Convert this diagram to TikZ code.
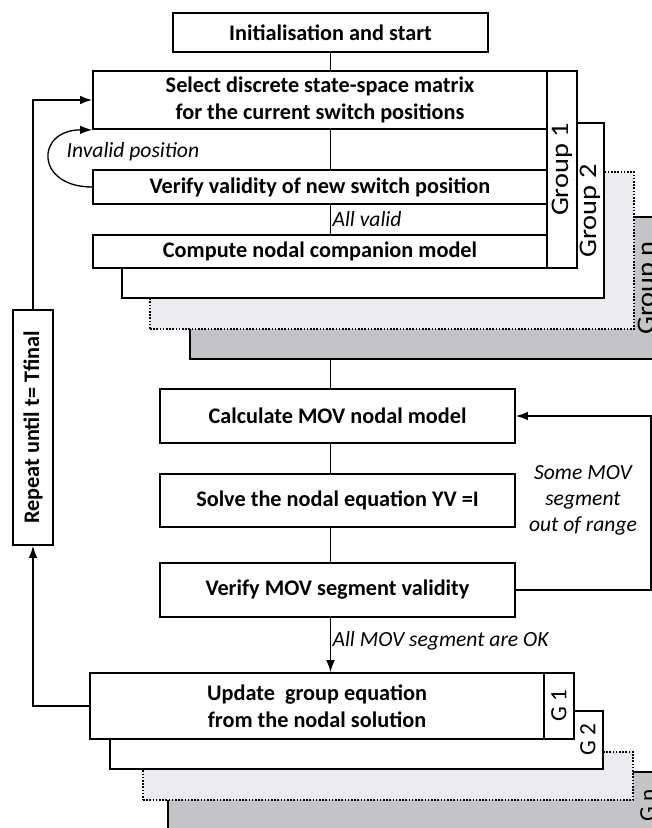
\documentclass[tikz,border=0pt]{standalone}
\usepackage{fontspec}
\setmainfont{Carlito}
\usetikzlibrary{arrows.meta,calc}
\definecolor{gngray}{HTML}{C4C4C6}
\definecolor{dotfill}{HTML}{ECECF0}
\begin{document}
\begin{tikzpicture}[x=0.75pt,y=-0.75pt,
  rect/.style n args={4}{at={({(#1+#3)/2},{(#2+#4)/2})},
    minimum width={(#3-#1)*0.75pt}, minimum height={(#4-#2)*0.75pt}},
  box/.style={draw, line width=1.3pt, fill=white, inner sep=0pt, align=center,
    font=\fontsize{16.7}{20}\selectfont\bfseries},
  card/.style={draw, line width=1.3pt, inner sep=0pt},
  dotcard/.style={draw, line width=1.3pt, dash pattern=on 1.2pt off 1.2pt, inner sep=0pt, fill=dotfill},
  lbl/.style={font=\fontsize{16.2}{20}\selectfont\itshape, inner sep=1pt},
  glbl/.style={font=\fontsize{19}{20}\selectfont, rotate=90, xscale=1.12, inner sep=0pt},
  hlbl/.style={font=\fontsize{17.5}{20}\selectfont, rotate=90, inner sep=0pt},
  conn/.style={line width=1pt},
  arr/.style={conn, -{Latex[length=9pt,width=6.5pt]}}]
\useasboundingbox (0,0) rectangle (652,828);
\clip (0,0) rectangle (652,828);

% ---------- upper group stack ----------
\node[card, fill=gngray, rect={190}{217}{720}{359}] (gn) {};
\node[glbl] (gnl) at (648,288) {Group n};
\node[dotcard, rect={150}{172}{634}{329}] (gdots) {};
\node[card, fill=white, rect={122}{123}{604}{298}] (g2) {};
\node[glbl] (g2l) at (590,211) {Group 2};
\fill[white] (93,71) rectangle (577,268);
\node[card, fill=white, rect={547}{71}{577}{268}] (g1) {};
\node[glbl] (g1l) at (g1.center) {Group 1};

\node[box, rect={173}{13}{488}{52}] (init) {Initialisation and start};
\node[box, rect={93}{71}{547}{129}] (sel) {Select discrete state-space matrix\\for the current switch positions};
\node[box, rect={93}{170}{547}{204}] (ver) {Verify validity of new switch position};
\node[box, rect={93}{235}{547}{268}] (comp) {Compute nodal companion model};

\node[lbl, anchor=west] (inv) at (65,152) {Invalid position};

% ---------- MOV loop ----------
\node[box, rect={160}{389}{515}{443}] (calc) {Calculate MOV nodal model};
\node[box, rect={160}{474}{515}{527}] (solve) {Solve the nodal equation YV =I};
\node[box, rect={160}{563}{515}{617}] (vmov) {Verify MOV segment validity};
\node[lbl, align=center, font=\fontsize{16.2}{19.5}\selectfont\itshape] (some) at (583,500) {Some MOV\\segment\\out of range};

% ---------- repeat ----------
\node[box, rect={13}{310}{53}{545}] (rep) {};
\node[rotate=90, inner sep=0pt, font=\fontsize{16.7}{20}\selectfont\bfseries] (repl) at (rep.center) {Repeat until t= Tfinal};

% ---------- lower group stack ----------
\node[card, fill=gngray, rect={168}{772}{720}{900}] (hn) {};
\node[hlbl] (hnl) at (648,805) {G n};
\node[dotcard, rect={143}{752}{633}{800}] (hdots) {};
\node[card, fill=white, rect={110}{711}{603}{769}] (h2) {};
\node[hlbl] (h2l) at (588,740) {G 2};
\node[card, fill=white, rect={544}{673}{574}{739}] (h1) {};
\node[hlbl] (h1l) at (h1.center) {G 1};
\node[box, rect={90}{673}{544}{739}] (upd) {Update\ \ group equation\\from the nodal solution};

% ---------- connectors ----------
\coordinate (stackb) at (init.south |- gn.south);
\draw[conn] (init.south) -- (init.south |- sel.north);
\draw[conn] (sel.south -| init.south) -- (ver.north -| init.south);
\draw[conn] (ver.south -| init.south) -- node[lbl, anchor=west] (allv) {All valid} (comp.north -| init.south);
\draw[conn] (stackb) -- (calc.north -| stackb);
\draw[conn] (calc.south -| stackb) -- (solve.north -| stackb);
\draw[conn] (solve.south -| stackb) -- (vmov.north -| stackb);
\draw[arr] (vmov.south -| stackb) -- node[lbl, anchor=west, pos=0.42] (allok) {All MOV segment are OK} (upd.north -| stackb);
\draw[arr] (vmov.east) -- ++(135,0) |- (calc.east);
\draw[arr] (upd.west) -| (rep.south);
\draw[arr] (rep.north) |- (sel.west);
\draw[arr] (ver.west) .. controls +(-57,0) and +(-57,0) .. (sel.south west);
\end{tikzpicture}
\end{document}
